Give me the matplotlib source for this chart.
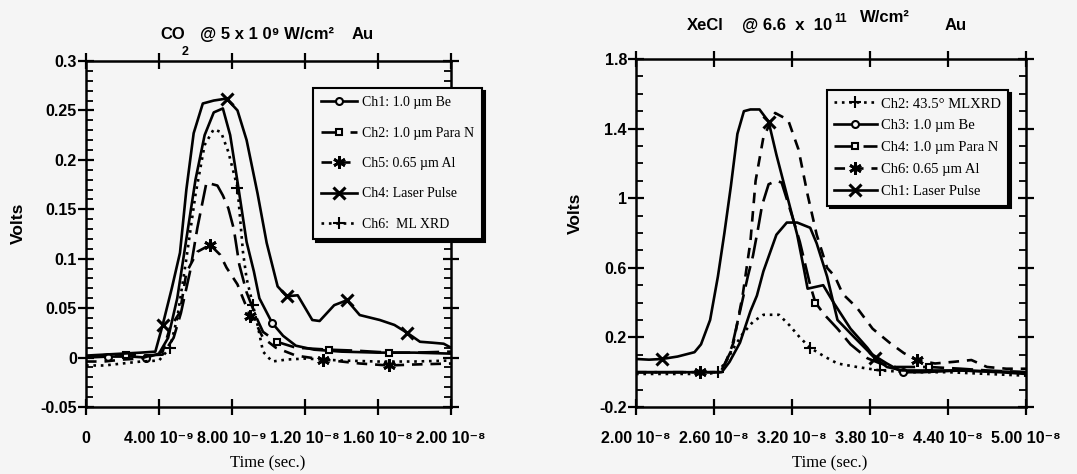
import matplotlib
matplotlib.use("Agg")
import matplotlib.pyplot as plt
from matplotlib.ticker import MultipleLocator
import numpy as np

# ==============================================================================
# Data (times in ns, signal in volts)

# --- CO2 @ 5 x 10^9 W/cm^2, Au ---
co2_ch1_t = [0, 1.2, 2.5, 3.3, 4.0, 4.5, 5.0, 5.5, 6.0, 6.5, 7.0, 7.5, 7.9, 8.3, 8.8, 9.2, 9.5, 10.2, 10.8, 11.5, 12.5, 14, 16, 18, 20]
co2_ch1_v = [0.0, 0.001, 0.001, 0.0, 0.004, 0.02, 0.06, 0.12, 0.18, 0.225, 0.248, 0.252, 0.225, 0.178, 0.117, 0.087, 0.06, 0.035, 0.022, 0.012, 0.008, 0.006, 0.005, 0.005, 0.004]

co2_ch2_t = [0, 1.2, 2.2, 3.2, 4.2, 4.8, 5.2, 5.7, 6.1, 6.6, 7.2, 7.5, 7.8, 8.1, 8.4, 8.8, 9.35, 9.7, 10.45, 11.5, 13.3, 14.8, 16.6, 18, 20]
co2_ch2_v = [0.0, 0.003, 0.003, 0.002, 0.003, 0.02, 0.045, 0.087, 0.131, 0.177, 0.174, 0.164, 0.151, 0.13, 0.094, 0.066, 0.04, 0.026, 0.016, 0.01, 0.008, 0.007, 0.005, 0.005, 0.006]

co2_ch5_t = [0, 1, 2, 3, 4.2, 4.6, 5.15, 5.5, 6.1, 6.8, 7.35, 7.7, 8.3, 8.6, 9.0, 9.35, 9.7, 10.4, 11.5, 13, 15, 16.6, 18, 20]
co2_ch5_v = [-0.004, -0.004, -0.002, -0.001, 0.006, 0.03, 0.046, 0.086, 0.107, 0.114, 0.104, 0.091, 0.074, 0.06, 0.042, 0.033, 0.02, 0.01, 0.002, -0.002, -0.006, -0.008, -0.007, -0.006]

co2_ch4_t = [0, 1, 2, 3, 3.8, 4.2, 4.7, 5.15, 5.5, 5.9, 6.4, 7.0, 7.7, 8.3, 8.8, 9.4, 9.9, 10.5, 11.0, 11.6, 12.4, 12.8, 13.6, 14.3, 15.0, 16.1, 16.9, 17.6, 18.3, 19.0, 19.6, 20.0]
co2_ch4_v = [0.002, 0.003, 0.004, 0.005, 0.006, 0.033, 0.07, 0.106, 0.17, 0.227, 0.257, 0.26, 0.262, 0.25, 0.22, 0.166, 0.116, 0.072, 0.062, 0.063, 0.038, 0.037, 0.053, 0.058, 0.043, 0.038, 0.033, 0.025, 0.016, 0.015, 0.014, 0.01]

co2_ch6_t = [0, 1, 2, 3, 4.0, 4.6, 5.0, 5.5, 6.0, 6.5, 7.0, 7.4, 7.8, 8.3, 8.6, 8.8, 9.15, 9.4, 9.7, 10.2, 11, 12, 14, 16, 18, 20]
co2_ch6_v = [-0.008, -0.008, -0.006, -0.004, -0.003, 0.01, 0.04, 0.1, 0.165, 0.215, 0.231, 0.228, 0.208, 0.172, 0.107, 0.08, 0.053, 0.033, 0.006, -0.004, -0.002, -0.001, -0.003, -0.004, -0.004, -0.003]

# --- XeCl @ 6.6 x 10^11 W/cm^2, Au ---
xe_ch2_t = [20, 22, 24, 25.5, 26.3, 27.0, 27.6, 28.2, 29.0, 29.8, 31.0, 31.8, 32.6, 33.4, 34.5, 35.5, 37, 38.8, 41, 44, 47, 50]
xe_ch2_v = [-0.01, -0.01, -0.01, -0.01, 0.0, 0.07, 0.15, 0.22, 0.29, 0.33, 0.33, 0.27, 0.2, 0.14, 0.09, 0.05, 0.03, 0.01, 0.0, 0.0, -0.01, -0.02]

xe_ch3_t = [20, 22, 24, 26.0, 26.6, 27.2, 28.0, 28.8, 29.3, 29.8, 30.8, 31.6, 32.4, 33.4, 33.9, 34.7, 35.5, 36.8, 38.0, 39.3, 40.5, 42, 45, 50]
xe_ch3_v = [0.0, 0.0, 0.0, 0.0, 0.0, 0.06, 0.17, 0.35, 0.44, 0.58, 0.79, 0.86, 0.86, 0.83, 0.74, 0.55, 0.3, 0.2, 0.11, 0.05, 0.0, 0.0, 0.01, 0.0]

xe_ch4_t = [20, 22, 24, 26.5, 27.3, 28.0, 28.6, 29.0, 29.4, 29.7, 30.2, 30.8, 31.2, 32.0, 32.6, 33.4, 33.8, 34.5, 35.5, 36.5, 37.8, 38.8, 40, 42.5, 45, 47, 50]
xe_ch4_v = [0.0, 0.0, 0.0, 0.0, 0.12, 0.35, 0.55, 0.67, 0.83, 0.96, 1.08, 1.1, 1.09, 0.9, 0.75, 0.5, 0.4, 0.33, 0.25, 0.16, 0.08, 0.05, 0.03, 0.03, 0.02, 0.01, 0.0]

xe_ch6_t = [20, 22, 24.9, 26.0, 26.6, 27.5, 28.2, 28.8, 29.2, 29.8, 30.7, 31.7, 32.5, 33.2, 33.9, 34.7, 35.3, 35.9, 37.0, 38.2, 39.5, 40.6, 41.6, 43, 44.5, 45.8, 47, 48.5, 50]
xe_ch6_v = [0.0, 0.0, 0.0, 0.0, 0.0, 0.17, 0.44, 0.75, 1.1, 1.35, 1.49, 1.45, 1.28, 1.02, 0.79, 0.6, 0.55, 0.45, 0.37, 0.25, 0.17, 0.11, 0.07, 0.05, 0.06, 0.07, 0.03, 0.02, 0.02]

xe_ch1_t = [20, 21, 22, 23.2, 24.5, 25.0, 25.7, 26.3, 26.8, 27.3, 27.8, 28.3, 28.8, 29.5, 30.2, 30.8, 31.6, 32.4, 32.9, 33.2, 34.4, 35.2, 36.5, 37.8, 38.4, 39.3, 40.5, 42, 45, 48, 50]
xe_ch1_v = [0.076, 0.072, 0.076, 0.09, 0.115, 0.16, 0.3, 0.55, 0.8, 1.07, 1.37, 1.5, 1.51, 1.51, 1.44, 1.25, 1.02, 0.79, 0.6, 0.48, 0.5, 0.4, 0.25, 0.14, 0.08, 0.03, 0.01, 0.01, 0.01, 0.0, -0.01]

co2_yticks = [-0.05, 0, 0.05, 0.1, 0.15, 0.2, 0.25, 0.3]
co2_ylabels = ["-0.05", "0", "0.05", "0.1", "0.15", "0.2", "0.25", "0.3"]
co2_xticks = [0, 4e-9, 8e-9, 1.2e-8, 1.6e-8, 2e-8]
co2_xlabels = ["0", "4.00 10⁻⁹", "8.00 10⁻⁹", "1.20 10⁻⁸", "1.60 10⁻⁸", "2.00 10⁻⁸"]

xe_yticks = [-0.2, 0.2, 0.6, 1.0, 1.4, 1.8]
xe_ylabels = ["-0.2", "0.2", "0.6", "1", "1.4", "1.8"]
xe_xticks = [2e-8, 2.6e-8, 3.2e-8, 3.8e-8, 4.4e-8, 5e-8]
xe_xlabels = ["2.00 10⁻⁸", "2.60 10⁻⁸", "3.20 10⁻⁸", "3.80 10⁻⁸", "4.40 10⁻⁸", "5.00 10⁻⁸"]

# ==============================================================================

bg = "#f5f5f5"
sans = ["Liberation Sans", "DejaVu Sans"]
serif = ["Liberation Serif", "DejaVu Serif"]

LONG = (0, (8, 3))
DASH = (0, (4, 3))
DOT = (0, (1, 1.8))

fig = plt.figure(figsize=(10.77, 4.74), dpi=100, facecolor=bg)
axL = fig.add_axes([86/1077, 1-407/474, 365/1077, 346/474], facecolor=bg)
axR = fig.add_axes([636/1077, 1-407/474, 390/1077, 348/474], facecolor=bg)

def ns(t):
  return np.array(t)*1e-9

def trace(ax, t, v, ls, marker, idx, label, ms=6, mew=1.5, mfc=bg):
  ax.plot(ns(t), v, color="k", lw=1.9, ls=ls, marker=marker, markevery=idx,
          ms=ms, mew=mew, mfc=mfc, mec="k", label=label)

# Left panel
trace(axL, co2_ch1_t, co2_ch1_v, "-", "o", [1, 3, 17], "Ch1: 1.0 µm Be", ms=5)
trace(axL, co2_ch2_t, co2_ch2_v, LONG, "s", [2, 18, 20, 22], "Ch2: 1.0 µm Para N", ms=5)
trace(axL, co2_ch5_t, co2_ch5_v, DASH, (6, 2, 0), [9, 14, 19, 21], "Ch5: 0.65 µm Al", ms=9, mew=2)
trace(axL, co2_ch4_t, co2_ch4_v, "-", "x", [5, 12, 18, 23, 27], "Ch4: Laser Pulse", ms=9, mew=2.2)
trace(axL, co2_ch6_t, co2_ch6_v, DOT, "+", [5, 13, 16], "Ch6:  ML XRD", ms=9, mew=1.5)

# Right panel
trace(axR, xe_ch2_t, xe_ch2_v, DOT, "+", [4, 13, 17], "Ch2: 43.5° MLXRD", ms=9)
trace(axR, xe_ch3_t, xe_ch3_v, "-", "o", [20], "Ch3: 1.0 µm Be", ms=5)
trace(axR, xe_ch4_t, xe_ch4_v, LONG, "s", [16, 23], "Ch4: 1.0 µm Para N", ms=5)
trace(axR, xe_ch6_t, xe_ch6_v, DASH, (6, 2, 0), [2, 22], "Ch6: 0.65 µm Al", ms=9, mew=2)
trace(axR, xe_ch1_t, xe_ch1_v, "-", "x", [2, 14, 24], "Ch1: Laser Pulse", ms=9, mew=2.2)

axL.set_xlim(0, 2e-8)
axL.set_ylim(-0.05, 0.3)
axL.set_yticks(co2_yticks)
axL.set_yticklabels(co2_ylabels)
axL.set_xticks(co2_xticks)
axL.set_xticklabels(co2_xlabels)
axL.yaxis.set_minor_locator(MultipleLocator(0.01))

axR.set_xlim(2e-8, 5e-8)
axR.set_ylim(-0.2, 1.8)
axR.set_yticks(xe_yticks)
axR.set_yticklabels(xe_ylabels)
axR.set_xticks(xe_xticks)
axR.set_xticklabels(xe_xlabels)
axR.yaxis.set_minor_locator(MultipleLocator(0.1))

for ax in (axL, axR):
  for s in ax.spines.values():
    s.set_linewidth(1.8)
  ax.tick_params(which="major", direction="inout", length=11, width=1.6,
                 top=True, right=True)
  ax.tick_params(which="minor", direction="in", length=5, width=1.3,
                 left=True, right=True)
  ax.tick_params(axis="x", pad=12)
  ax.tick_params(axis="y", pad=1)
  for lab in ax.get_xticklabels() + ax.get_yticklabels():
    lab.set_family(sans)
    lab.set_fontweight("bold")
    lab.set_fontsize(11.5)

shadow = {"color": "k", "alpha": 1}
legL = axL.legend(loc="upper left", bbox_to_anchor=(313/1077, 1-88/474),
                  bbox_transform=fig.transFigure, prop={"family": serif, "size": 10},
                  fancybox=False, shadow=shadow, framealpha=1, facecolor=bg,
                  edgecolor="k", labelspacing=1.25, handlelength=2.6,
                  handletextpad=0.3, borderpad=0.6, borderaxespad=0, numpoints=1)
legL.get_frame().set_linewidth(1.5)
legR = axR.legend(loc="upper left", bbox_to_anchor=(827/1077, 1-90/474),
                  bbox_transform=fig.transFigure, prop={"family": serif, "size": 10.5},
                  fancybox=False, shadow=shadow, framealpha=1, facecolor=bg,
                  edgecolor="k", labelspacing=0.6, handlelength=2.9,
                  handletextpad=0.3, borderpad=0.5, borderaxespad=0, numpoints=1)
legR.get_frame().set_linewidth(1.5)

# Titles
tkw = dict(family=sans, fontweight="bold", fontsize=12, va="baseline")
fig.text(160/1077, 1-39/474, "CO", **tkw)
fig.text(182/1077, 1-55/474, "2", family=sans, fontweight="bold", fontsize=9, va="baseline")
fig.text(200/1077, 1-39/474, "@ 5 x 1 0⁹ W/cm²", **tkw)
fig.text(352/1077, 1-39/474, "Au", **tkw)

fig.text(687/1077, 1-30/474, "XeCl", **tkw)
fig.text(742/1077, 1-30/474, "@ 6.6  x  10", **tkw)
fig.text(834/1077, 1-22/474, "11", family=sans, fontweight="bold", fontsize=8.5, va="baseline")
fig.text(860/1077, 1-22/474, "W/cm²", **tkw)
fig.text(945/1077, 1-30/474, "Au", **tkw)

# Axis labels
fig.text(18/1077, 1-223/474, "Volts", rotation=90, ha="center", va="center",
         family=sans, fontweight="bold", fontsize=12.5)
fig.text(575/1077, 1-213/474, "Volts", rotation=90, ha="center", va="center",
         family=sans, fontweight="bold", fontsize=12.5)
fig.text(268/1077, 1-463/474, "Time (sec.)", ha="center", va="center",
         family=serif, fontsize=12)
fig.text(830/1077, 1-463/474, "Time (sec.)", ha="center", va="center",
         family=serif, fontsize=12)

fig.savefig("out.png", dpi=100, facecolor=bg)
